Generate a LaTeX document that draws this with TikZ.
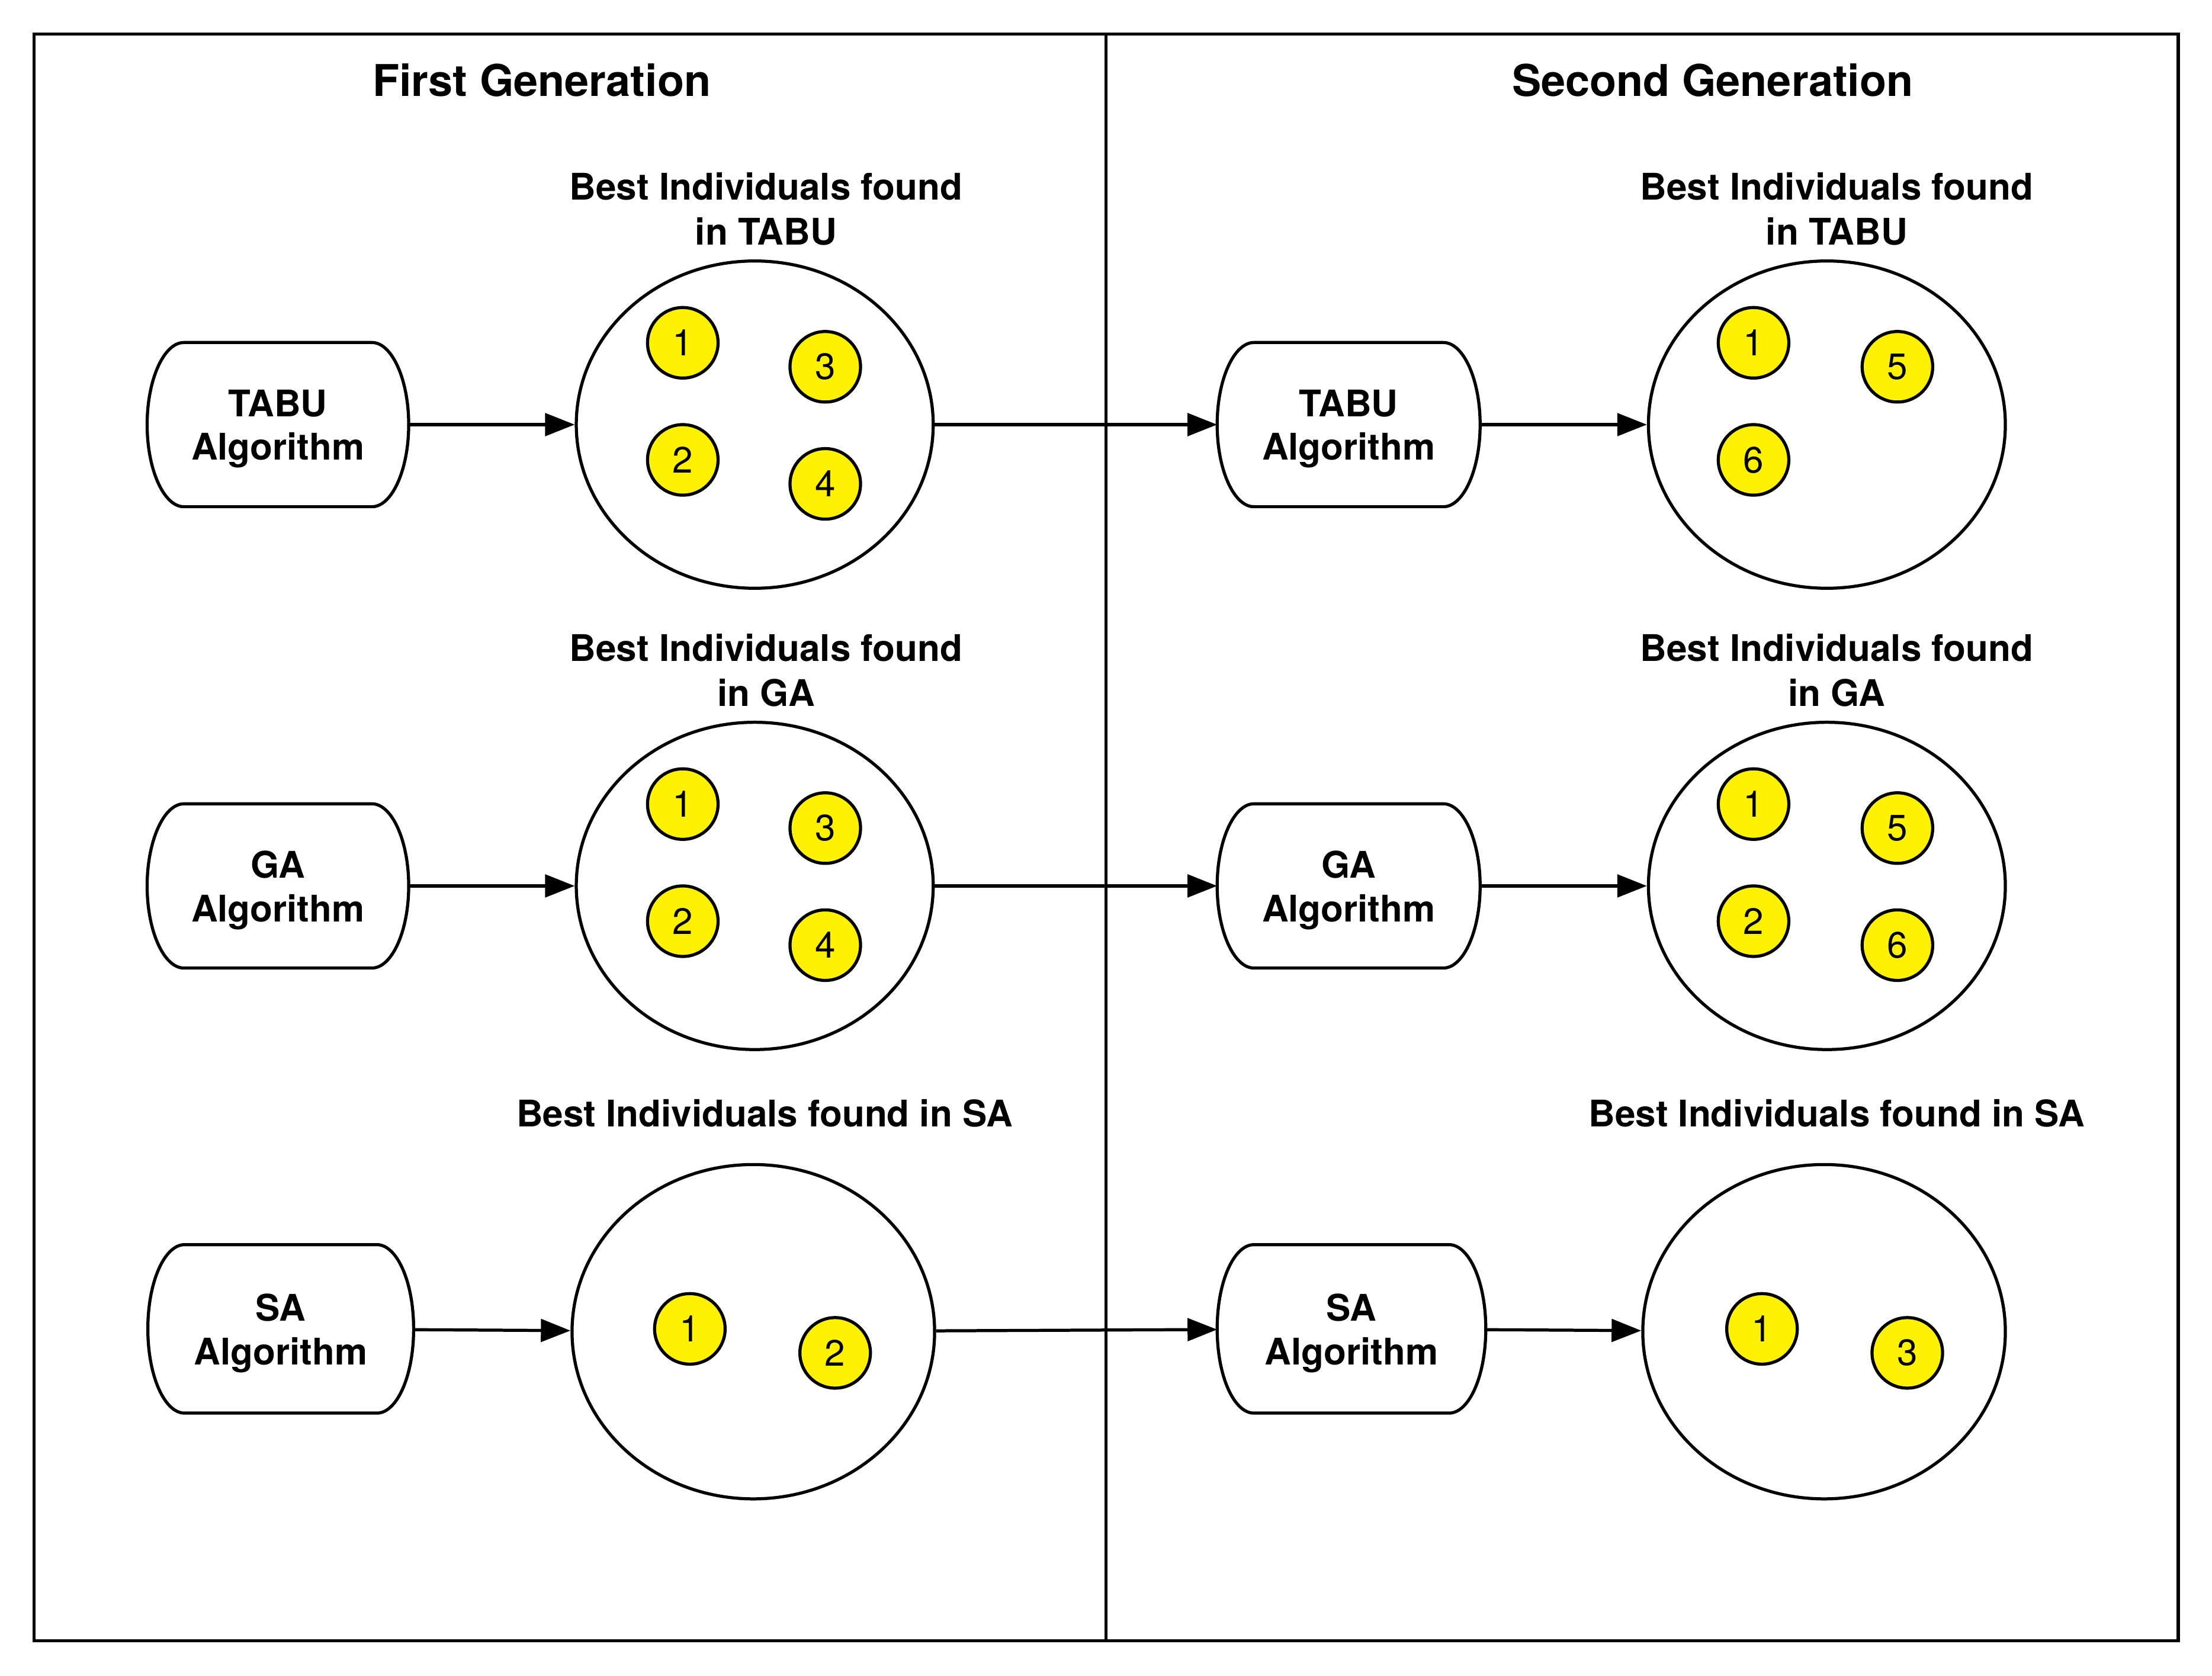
\documentclass[tikz,border=0pt]{standalone}
\usepackage{fontspec}
\setmainfont{TeX Gyre Heros}
\usetikzlibrary{shapes.geometric,arrows.meta}
\tikzset{
 ln/.style={line width=2.2pt},
 algbox/.style={draw=none, minimum width=185pt, minimum height=116pt, inner sep=0pt},
 algtxt/.style={align=center, inner sep=0pt, font=\fontsize{26}{31}\selectfont\bfseries},
 pool/.style={ellipse, draw, ln, minimum width=253pt, minimum height=232pt, inner sep=0pt},
 ind/.style={circle, draw, ln, fill=yellow, minimum size=50pt, inner sep=0pt, font=\fontsize{26}{31}\selectfont},
 lbl/.style={align=center, font=\fontsize{26}{32}\selectfont\bfseries, inner sep=0pt},
 ttl/.style={font=\fontsize{31}{36}\selectfont\bfseries, inner sep=0pt},
 arr/.style={ln, -{Triangle[length=21pt, width=16pt]}},
}
\newcommand\algoutline[2]{%
 \draw[ln] ([xshift=26pt]#1.north west) -- ([xshift=-26pt]#1.north east)
   .. controls ([xshift=-12pt]#1.north east) and ([yshift=-26pt]#1.north east) .. (#1.east)
   .. controls ([yshift=26pt]#1.south east) and ([xshift=-12pt]#1.south east) .. ([xshift=-26pt]#1.south east)
   -- ([xshift=26pt]#1.south west)
   .. controls ([xshift=12pt]#1.south west) and ([yshift=26pt]#1.south west) .. (#1.west)
   .. controls ([yshift=-26pt]#1.north west) and ([xshift=12pt]#1.north west) .. cycle;
 \node[algtxt] (#1t) at ([yshift=-3pt]#1.center) {#2};}
\begin{document}
\begin{tikzpicture}[x=1pt,y=-1pt]
\useasboundingbox (0,0) rectangle (1568,1188);
% frame
\draw[ln] (24,24) rectangle (1544,1163);
\draw[ln] (784,24) -- (784,1163);
\node[ttl] (t1) at (384,57) {First Generation};
\node[ttl] (t2) at (1214,57) {Second Generation};

% ---------- First generation ----------
\node[algbox] (b11) at (197,301) {};
\node[algbox] (b12) at (197,628) {};
\node[algbox, minimum width=188pt, minimum height=119pt] (b13) at (199,942) {};
\algoutline{b11}{TABU\\Algorithm}
\algoutline{b12}{GA\\Algorithm}
\algoutline{b13}{SA\\Algorithm}

\node[lbl] (l11) at (543,148) {Best Individuals found\\in TABU};
\node[lbl] (l12) at (543,475) {Best Individuals found\\in GA};
\node[lbl] (l13) at (542,789) {Best Individuals found in SA};

\node[pool] (p11) at (535,301) {};
\node[pool] (p12) at (535,628) {};
\node[pool, minimum width=257pt, minimum height=237pt] (p13) at (534,944) {};

\node[ind] (c111) at (484,243) {1};
\node[ind] (c113) at (585,260) {3};
\node[ind] (c112) at (484,326) {2};
\node[ind] (c114) at (585,343) {4};

\node[ind] (c121) at (484,570) {1};
\node[ind] (c123) at (585,587) {3};
\node[ind] (c122) at (484,653) {2};
\node[ind] (c124) at (585,670) {4};

\node[ind] (c131) at (489,942) {1};
\node[ind] (c132) at (592,959) {2};

% ---------- Second generation ----------
\node[algbox, minimum width=186pt] (b21) at (956,301) {};
\node[algbox, minimum width=186pt] (b22) at (956,628) {};
\node[algbox, minimum width=190pt, minimum height=119pt] (b23) at (958,942) {};
\algoutline{b21}{TABU\\Algorithm}
\algoutline{b22}{GA\\Algorithm}
\algoutline{b23}{SA\\Algorithm}

\node[lbl] (l21) at (1302,148) {Best Individuals found\\in TABU};
\node[lbl] (l22) at (1302,475) {Best Individuals found\\in GA};
\node[lbl] (l23) at (1302,789) {Best Individuals found in SA};

\node[pool] (p21) at (1295,301) {};
\node[pool] (p22) at (1295,628) {};
\node[pool, minimum width=257pt, minimum height=237pt] (p23) at (1293,944) {};

\node[ind] (c211) at (1243,243) {1};
\node[ind] (c215) at (1345,260) {5};
\node[ind] (c216) at (1243,326) {6};

\node[ind] (c221) at (1243,570) {1};
\node[ind] (c225) at (1345,587) {5};
\node[ind] (c222) at (1243,653) {2};
\node[ind] (c226) at (1345,670) {6};

\node[ind] (c231) at (1249,942) {1};
\node[ind] (c233) at (1352,959) {3};

% ---------- arrows ----------
\draw[arr] (b11) -- (p11);
\draw[arr] (b12) -- (p12);
\draw[arr] (b13) -- (p13);
\draw[arr] (p11) -- (b21);
\draw[arr] (p12) -- (b22);
\draw[arr] (p13) -- (b23);
\draw[arr] (b21) -- (p21);
\draw[arr] (b22) -- (p22);
\draw[arr] (b23) -- (p23);
\end{tikzpicture}
\end{document}
